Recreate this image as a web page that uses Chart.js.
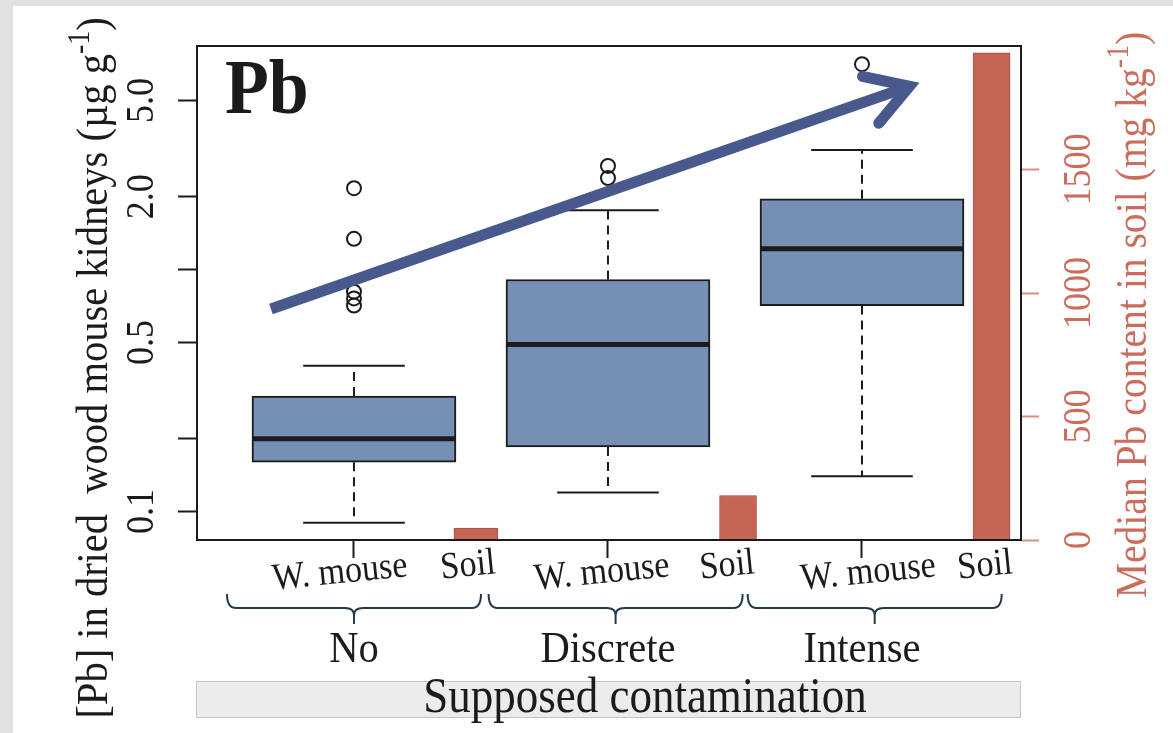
<!DOCTYPE html>
<html>
<head>
<meta charset="utf-8">
<style>
  html, body { margin: 0; padding: 0; background: #ffffff; overflow: hidden; }
  canvas { display: block; }
</style>
<script src="https://cdn.jsdelivr.net/npm/chart.js@4.4.1/dist/chart.umd.min.js"></script>
</head>
<body>
<canvas id="chart" width="1173" height="733"></canvas>
<script>
// Lead (Pb) in dried wood mouse kidneys (boxplots, log axis) and median Pb in soil (bars, right axis)
const groups = ['No', 'Discrete', 'Intense'];
const subLabels = ['W. mouse', 'Soil'];
const boxX = [1, 2, 3];
const mouseLowerWhisker = [0.09, 0.12, 0.14];
const mouseQ1 = [0.16, 0.185, 0.71];
const mouseMedian = [0.20, 0.49, 1.22];
const mouseQ3 = [0.30, 0.91, 1.96];
const mouseUpperWhisker = [0.40, 1.76, 3.12];
const mouseOutliers = [[2.17, 1.34, 0.81, 0.76, 0.71], [2.68, 2.39], [7.06]];
const soilX = [1.48, 2.512, 3.51];
const soilMedian = [48, 180, 1972];
const kidneyTicks = [0.1, 0.2, 0.5, 1, 2, 5];
const kidneyTickLabels = ['0.1', '', '0.5', '', '2.0', '5.0'];
const soilTicks = [0, 500, 1000, 1500];
const soilTickLabels = ['0', '500', '1000', '1500'];
const trendFrom = [0.673, 0.687];
const trendTo = [3.187, 5.72];

// layout
const W = 1173, H = 733;
const frame = { left: 197, top: 46, right: 1021, bottom: 540 };
const xRange = [0.382, 3.626];
const kidneyRange = [0.0763, 8.39];
const soilRange = [0, 2000];
const boxHalf = 0.4016;
const capHalf = 0.2;
const mouseLabelX = [0.945, 1.976, 3.024];
const soilLabelX = [1.449, 2.469, 3.484];
const braceFrom = [0.5, 1.53, 2.55];
const braceTo = [1.5, 2.53, 3.55];

// colours
const ink = '#1b1b1b';
const boxFill = '#7690b5';
const soilFill = '#c56554';
const soilEdge = '#a95143';
const soilInk = '#cc6c5c';
const soilTickInk = '#dc8e80';
const arrowColor = '#47598d';
const braceInk = '#22394a';
const serif = '"Liberation Serif", "Times New Roman", serif';

function seg(points, extra) {
  return Object.assign({
    type: 'line', xAxisID: 'x', yAxisID: 'y', data: points,
    pointRadius: 0, borderColor: ink, borderWidth: 2, fill: false, tension: 0,
    borderCapStyle: 'butt'
  }, extra);
}

const datasets = [];
datasets.push({
  label: subLabels[0], type: 'bar', xAxisID: 'x', yAxisID: 'y', order: 5,
  data: boxX.map((x, i) => ({ x, y: [mouseQ1[i], mouseQ3[i]] })),
  backgroundColor: boxFill, borderColor: ink, borderWidth: 2, borderSkipped: false,
  grouped: false, barThickness: 204
});
// soil bars; the first column is drawn a little wider
[[0], [1, 2]].forEach((idx, k) => datasets.push({
  label: subLabels[1], type: 'bar', xAxisID: 'x', yAxisID: 'y2', order: 5,
  data: idx.map(i => ({ x: soilX[i], y: soilMedian[i] })),
  backgroundColor: soilFill, borderColor: soilEdge, borderWidth: 1, borderSkipped: false,
  grouped: false, barThickness: k === 0 ? 44 : 37
}));
boxX.forEach((x, i) => {
  datasets.push(seg([{ x, y: mouseQ3[i] }, { x, y: mouseUpperWhisker[i] }], { borderDash: [9, 6], order: 4 }));
  datasets.push(seg([{ x, y: mouseQ1[i] }, { x, y: mouseLowerWhisker[i] }], { borderDash: [9, 6], order: 4 }));
  datasets.push(seg([{ x: x - capHalf, y: mouseUpperWhisker[i] }, { x: x + capHalf, y: mouseUpperWhisker[i] }], { order: 4 }));
  datasets.push(seg([{ x: x - capHalf, y: mouseLowerWhisker[i] }, { x: x + capHalf, y: mouseLowerWhisker[i] }], { order: 4 }));
  datasets.push(seg([{ x: x - boxHalf, y: mouseMedian[i] }, { x: x + boxHalf, y: mouseMedian[i] }], { borderWidth: 5, order: 3 }));
});
datasets.push({
  type: 'line', xAxisID: 'x', yAxisID: 'y', order: 2, showLine: false,
  data: mouseOutliers.flatMap((vals, i) => vals.map(v => ({ x: boxX[i], y: v }))),
  pointRadius: 7, pointBorderWidth: 2, pointBorderColor: ink,
  pointBackgroundColor: 'rgba(0,0,0,0)', borderColor: ink
});

function text(ctx, str, x, y, o) {
  ctx.save();
  ctx.translate(x, y);
  if (o.rotate) ctx.rotate(o.rotate);
  ctx.scale(o.squeeze || 0.9, 1);
  ctx.font = (o.bold ? 'bold ' : '') + o.size + 'px ' + serif;
  ctx.fillStyle = o.color || ink;
  ctx.textAlign = o.align || 'center';
  ctx.textBaseline = o.baseline || 'alphabetic';
  ctx.fillText(str, 0, 0);
  ctx.restore();
}

// rotated axis title with a superscript part, centred on (x, y)
function supTitle(ctx, parts, x, y, size, color) {
  const squeeze = 0.9;
  ctx.save();
  ctx.translate(x, y);
  ctx.rotate(-Math.PI / 2);
  ctx.scale(squeeze, 1);
  ctx.fillStyle = color;
  ctx.textBaseline = 'alphabetic';
  ctx.textAlign = 'left';
  const fonts = parts.map(p => (p.sup ? Math.round(size * 0.7) : size) + 'px ' + serif);
  let total = 0;
  parts.forEach((p, i) => { ctx.font = fonts[i]; total += ctx.measureText(p.t).width; });
  let cx = -total / 2;
  parts.forEach((p, i) => {
    ctx.font = fonts[i];
    ctx.fillText(p.t, cx, p.sup ? -size * 0.4 : 0);
    cx += ctx.measureText(p.t).width;
  });
  ctx.restore();
}

function brace(ctx, x1, x2, xm, yTop, yMid, yTip) {
  const r = 9;
  ctx.beginPath();
  ctx.moveTo(x1, yTop);
  ctx.quadraticCurveTo(x1, yMid, x1 + r, yMid);
  ctx.lineTo(xm - r, yMid);
  ctx.quadraticCurveTo(xm, yMid, xm, yMid + 7);
  ctx.lineTo(xm, yTip);
  ctx.moveTo(xm, yMid + 7);
  ctx.quadraticCurveTo(xm, yMid, xm + r, yMid);
  ctx.lineTo(x2 - r, yMid);
  ctx.quadraticCurveTo(x2, yMid, x2, yTop);
  ctx.stroke();
}

const decor = {
  id: 'decor',
  beforeDraw(chart) {
    const ctx = chart.ctx;
    ctx.save();
    ctx.fillStyle = '#e1e1e1';
    ctx.fillRect(0, 0, W, H);
    ctx.fillStyle = '#ffffff';
    ctx.fillRect(13, 6, W - 13, H - 6);
    ctx.restore();
  },
  afterDatasetsDraw(chart) {
    const ctx = chart.ctx;
    const xs = chart.scales.x, ys = chart.scales.y;
    const a = chart.chartArea;
    // trend arrow
    const p0 = { x: xs.getPixelForValue(trendFrom[0]), y: ys.getPixelForValue(trendFrom[1]) };
    const p1 = { x: xs.getPixelForValue(trendTo[0]), y: ys.getPixelForValue(trendTo[1]) };
    const ang = Math.atan2(p1.y - p0.y, p1.x - p0.x);
    ctx.save();
    ctx.strokeStyle = arrowColor;
    ctx.lineWidth = 11;
    ctx.lineCap = 'butt';
    ctx.beginPath();
    ctx.moveTo(p0.x, p0.y);
    ctx.lineTo(p1.x - 4 * Math.cos(ang), p1.y - 4 * Math.sin(ang));
    ctx.stroke();
    const back = ang + Math.PI, spread = 31 * Math.PI / 180, arm = 48;
    ctx.lineCap = 'round';
    ctx.lineJoin = 'miter';
    ctx.beginPath();
    ctx.moveTo(p1.x + arm * Math.cos(back + spread), p1.y + arm * Math.sin(back + spread));
    ctx.lineTo(p1.x, p1.y);
    ctx.lineTo(p1.x + arm * Math.cos(back - spread), p1.y + arm * Math.sin(back - spread));
    ctx.stroke();
    // plot frame
    ctx.strokeStyle = ink;
    ctx.lineWidth = 2;
    ctx.lineCap = 'butt';
    ctx.strokeRect(a.left, a.top, a.right - a.left, a.bottom - a.top);
    ctx.restore();
  },
  afterDraw(chart) {
    const ctx = chart.ctx;
    const xs = chart.scales.x, ys = chart.scales.y, y2 = chart.scales.y2;
    const a = chart.chartArea;
    // tick labels
    kidneyTicks.forEach((v, i) => {
      if (kidneyTickLabels[i]) text(ctx, kidneyTickLabels[i], 153, ys.getPixelForValue(v), { size: 40, rotate: -Math.PI / 2 });
    });
    soilTicks.forEach((v, i) => {
      text(ctx, soilTickLabels[i], 1090, y2.getPixelForValue(v), { size: 40, rotate: -Math.PI / 2, color: soilInk });
    });
    // axis titles
    supTitle(ctx, [{ t: '[Pb] in dried  wood mouse kidneys (µg g' }, { t: '-1', sup: true }, { t: ')' }], 107, 368, 45, ink);
    supTitle(ctx, [{ t: 'Median Pb content in soil (mg kg' }, { t: '-1', sup: true }, { t: ')' }], 1146, 315, 44, soilInk);
    // element label
    text(ctx, 'Pb', a.left + 28, a.top + 67, { size: 78, bold: true, align: 'left', squeeze: 0.92 });
    // sample-type labels under the axis
    for (let i = 0; i < groups.length; i++) {
      text(ctx, subLabels[0], xs.getPixelForValue(mouseLabelX[i]), 573, { size: 38, rotate: -0.1, baseline: 'middle' });
      text(ctx, subLabels[1], xs.getPixelForValue(soilLabelX[i]), 566, { size: 38, rotate: -0.1, baseline: 'middle' });
    }
    // braces and group names
    ctx.save();
    ctx.strokeStyle = braceInk;
    ctx.lineWidth = 2;
    for (let i = 0; i < groups.length; i++) {
      const x1 = xs.getPixelForValue(braceFrom[i]);
      const x2 = xs.getPixelForValue(braceTo[i]);
      brace(ctx, x1, x2, (x1 + x2) / 2, 594, 608, 624);
      text(ctx, groups[i], xs.getPixelForValue(boxX[i]), 662, { size: 45 });
    }
    ctx.restore();
    // factor strip
    ctx.save();
    ctx.fillStyle = '#ececec';
    ctx.fillRect(a.left - 1, 681, a.right - a.left + 1, 37);
    ctx.strokeStyle = '#c4c4c4';
    ctx.lineWidth = 1;
    ctx.strokeRect(a.left - 0.5, 681.5, a.right - a.left, 36);
    ctx.restore();
    text(ctx, 'Supposed contamination', 645, 712, { size: 50 });
  }
};

const hiddenLabels = { display: false };

new Chart(document.getElementById('chart'), {
  type: 'line',
  data: { datasets },
  options: {
    responsive: false,
    animation: false,
    devicePixelRatio: 1,
    events: [],
    layout: { padding: { top: frame.top, left: 0, right: 0, bottom: 0 } },
    plugins: { legend: { display: false }, tooltip: { enabled: false } },
    scales: {
      x: {
        type: 'linear', position: 'bottom', min: xRange[0], max: xRange[1],
        offset: false, bounds: 'data',
        afterBuildTicks: s => { s.ticks = boxX.map(v => ({ value: v })); },
        afterFit: s => { s.height = H - frame.bottom; },
        grid: { display: true, drawOnChartArea: false, drawTicks: true, tickLength: 18, tickWidth: 2, tickColor: ink, color: ink, offset: false },
        border: { display: false },
        ticks: hiddenLabels
      },
      y: {
        type: 'logarithmic', position: 'left', min: kidneyRange[0], max: kidneyRange[1], bounds: 'data',
        afterBuildTicks: s => { s.ticks = kidneyTicks.map(v => ({ value: v })); },
        afterFit: s => { s.width = frame.left; },
        grid: { display: true, drawOnChartArea: false, drawTicks: true, tickLength: 19, tickWidth: 2, tickColor: ink, color: ink },
        border: { display: false },
        ticks: hiddenLabels
      },
      y2: {
        type: 'linear', position: 'right', min: soilRange[0], max: soilRange[1], bounds: 'data',
        afterBuildTicks: s => { s.ticks = soilTicks.map(v => ({ value: v })); },
        afterFit: s => { s.width = W - frame.right; },
        grid: { display: true, drawOnChartArea: false, drawTicks: true, tickLength: 18, tickWidth: 2, tickColor: soilTickInk, color: soilTickInk },
        border: { display: false },
        ticks: hiddenLabels
      }
    }
  },
  plugins: [decor]
});
</script>
</body>
</html>
